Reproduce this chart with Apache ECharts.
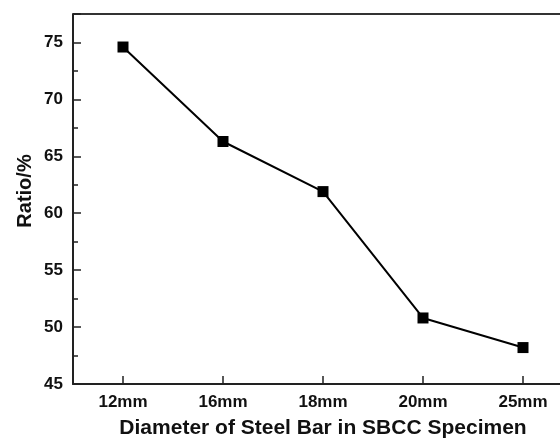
<!DOCTYPE html>
<html>
<head>
<meta charset="utf-8">
<script src="https://cdn.jsdelivr.net/npm/echarts@6/dist/echarts.min.js"></script>
<style>
  html, body { margin: 0; padding: 0; background: #fff; overflow: hidden; }
  /* plot continues past the right edge of the window, as in the source */
  #chart { width: 573px; height: 439px; }
</style>
</head>
<body>
<div id="chart"></div>
<script>
const diameters = ['12mm', '16mm', '18mm', '20mm', '25mm'];
const ratios = [74.6, 66.3, 61.9, 50.8, 48.2];

const chart = echarts.init(document.getElementById('chart'));
const font = 'Liberation Sans, Arial, sans-serif';

chart.setOption({
  backgroundColor: '#ffffff',
  animation: false,
  grid: { left: 73, right: 0, top: 14, bottom: 55, outerBoundsMode: 'none' },
  xAxis: {
    type: 'category',
    data: diameters,
    boundaryGap: true,
    name: 'Diameter of Steel Bar in SBCC Specimen',
    nameLocation: 'middle',
    nameGap: 34,
    nameTextStyle: { fontFamily: font, fontWeight: 'bold', fontSize: 21, color: '#111' },
    axisLine: { lineStyle: { color: '#222', width: 2 } },
    axisTick: { show: true, inside: true, length: 8, alignWithLabel: true, lineStyle: { color: '#222', width: 1.5 } },
    axisLabel: { fontFamily: font, fontWeight: 'bold', fontSize: 17, color: '#111', margin: 10 },
    splitLine: { show: false }
  },
  yAxis: {
    type: 'value',
    min: 45,
    max: 77.5,
    interval: 5,
    name: 'Ratio/%',
    nameLocation: 'middle',
    nameGap: 38,
    nameMoveOverlap: false,
    nameTextStyle: { fontFamily: font, fontWeight: 'bold', fontSize: 20, color: '#111', padding: [0, 0, 0, 16] },
    axisLine: { show: true, lineStyle: { color: '#222', width: 2 } },
    axisTick: { show: true, inside: true, length: 8, lineStyle: { color: '#222', width: 1.5 } },
    minorTick: { show: true, splitNumber: 2, length: 5, lineStyle: { color: '#222', width: 1.5 } },
    axisLabel: {
      fontFamily: font, fontWeight: 'bold', fontSize: 17, color: '#111', margin: 10,
      formatter: v => (v % 5 === 0 ? v : '')
    },
    splitLine: { show: false }
  },
  series: [{
    type: 'line',
    data: ratios,
    symbol: 'rect',
    symbolSize: 11,
    itemStyle: { color: '#000' },
    lineStyle: { color: '#000', width: 2 }
  }],
  graphic: [{
    type: 'line',
    shape: { x1: 73, y1: 14, x2: 573, y2: 14 },
    style: { stroke: '#333', lineWidth: 2 }
  }]
});
</script>
</body>
</html>
